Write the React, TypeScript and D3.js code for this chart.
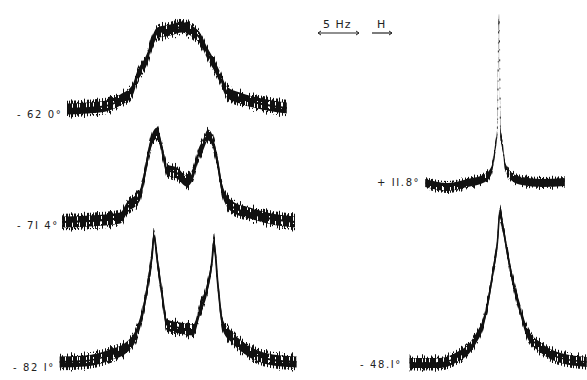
import React from 'react';
import * as d3 from 'd3';

// Frequency offsets (Hz) and relative intensities
const hzA = [-13.9, -9.9, -7.4, -5.9, -5.4, -4.1, -3.5, -2.9, -1.3, 0.1, 1.5, 2.3, 3.2, 3.9, 4.8, 5.6, 7.2, 10.5, 12.9];
const intA = [0.0, 0.02, 0.09, 0.19, 0.31, 0.51, 0.67, 0.76, 0.79, 0.82, 0.77, 0.71, 0.56, 0.46, 0.31, 0.17, 0.11, 0.04, 0.01];

const hzB = [-14.5, -11.1, -7.4, -6.6, -5.0, -4.4, -4.0, -3.4, -2.9, -2.3, -1.7, -0.5, 0.7, 1.5, 2.1, 2.7, 3.3, 3.9, 4.4, 5.1, 6.3, 8.4, 10.5, 13.9];
const intB = [0.0, 0.01, 0.04, 0.14, 0.27, 0.49, 0.67, 0.85, 0.89, 0.72, 0.52, 0.49, 0.41, 0.49, 0.67, 0.77, 0.87, 0.8, 0.62, 0.3, 0.15, 0.09, 0.04, 0.0];

const hzC = [-14.8, -11.7, -8.7, -6.6, -5.4, -4.6, -4.0, -3.5, -3.3, -2.9, -2.3, -1.7, -0.1, 1.5, 2.3, 3.2, 3.8, 4.0, 4.5, 5.1, 6.3, 8.4, 11.2, 14.1];
const intC = [0.0, 0.01, 0.07, 0.15, 0.29, 0.52, 0.8, 1.09, 1.27, 1.02, 0.67, 0.37, 0.34, 0.32, 0.52, 0.74, 1.02, 1.2, 0.77, 0.37, 0.24, 0.1, 0.02, 0.0];

const hzD = [-9.0, -6.2, -3.8, -1.7, -0.9, -0.5, -0.2, 0.0, 0.2, 0.5, 0.7, 1.6, 2.8, 5.2, 8.0];
const intD = [0.01, -0.03, 0.01, 0.06, 0.14, 0.34, 0.55, 1.66, 0.5, 0.35, 0.19, 0.07, 0.03, 0.01, 0.02];

const hzE = [-10.9, -7.2, -5.1, -3.5, -2.7, -2.0, -1.3, -0.7, -0.2, 0.1, 0.5, 1.0, 1.6, 2.6, 3.4, 5.0, 7.1, 10.7];
const intE = [0.0, 0.0, 0.06, 0.16, 0.26, 0.38, 0.63, 0.93, 1.2, 1.5, 1.35, 1.11, 0.85, 0.53, 0.31, 0.16, 0.06, 0.01];

const labels = ['- 62 0°', '- 7I 4°', '- 82 I°', '+ II.8°', '- 48.I°'];
const scaleBarHz = 5;

type Trace = {
  hz: number[]; v: number[]; label: string; col: 0 | 1; base: number; amp: number;
  lx: number; ly: number; lineW: number; dash?: string;
};

const traces: Trace[] = [
  { hz: hzA, v: intA, label: labels[0], col: 0, base: 109, amp: 5.5, lx: 17, ly: 118, lineW: 2 },
  { hz: hzB, v: intB, label: labels[1], col: 0, base: 222, amp: 5.5, lx: 17, ly: 229, lineW: 2 },
  { hz: hzC, v: intC, label: labels[2], col: 0, base: 362, amp: 5.5, lx: 13, ly: 371, lineW: 1.8 },
  { hz: hzD, v: intD, label: labels[3], col: 1, base: 184, amp: 4, lx: 377, ly: 186, lineW: 0.9, dash: '2 7 1 9' },
  { hz: hzE, v: intE, label: labels[4], col: 1, base: 363, amp: 5, lx: 360, ly: 368, lineW: 1.6 },
];

const PX_PER_HZ = 8.2;
const xCols = [
  d3.scaleLinear().domain([-15, 15]).range([181 - 15 * PX_PER_HZ, 181 + 15 * PX_PER_HZ]),
  d3.scaleLinear().domain([-15, 15]).range([499 - 15 * PX_PER_HZ, 499 + 15 * PX_PER_HZ]),
];
const yS = d3.scaleLinear().domain([0, 1]).range([0, -100]);

function pts(t: Trace) {
  return t.hz.map((h, i) => [h, t.v[i]] as [number, number]);
}
function bandPath(t: Trace, k: number) {
  const x = xCols[t.col];
  const a = t.amp * k;
  return d3
    .area<[number, number]>()
    .x((d) => x(d[0]))
    .y0((d) => t.base + yS(d[1]) + a)
    .y1((d) => t.base + yS(d[1]) - a)
    .curve(d3.curveMonotoneX)(pts(t)) as string;
}
function linePath(t: Trace) {
  const x = xCols[t.col];
  return d3
    .line<[number, number]>()
    .x((d) => x(d[0]))
    .y((d) => t.base + yS(d[1]))
    .curve(d3.curveMonotoneX)(pts(t)) as string;
}

const INK = '#111';

export default function App() {
  const font = "'DejaVu Sans', 'Liberation Sans', sans-serif";
  const barX0 = 318;
  const barLen = xCols[1](scaleBarHz) - xCols[1](0);
  return (
    <svg width={587} height={380} style={{ position: 'absolute', left: 0, top: 0, background: '#fff' }}>
      <defs>
        {/* white slivers inside the dense noise band */}
        <pattern id="gapA" width={7} height={17} patternUnits="userSpaceOnUse">
          <rect x={2} y={0} width={1} height={6} fill="#fff" shapeRendering="crispEdges" />
        </pattern>
        <pattern id="gapB" width={12} height={23} patternUnits="userSpaceOnUse">
          <rect x={5} y={9} width={1} height={8} fill="#fff" shapeRendering="crispEdges" />
          <rect x={10} y={2} width={1} height={4} fill="#fff" shapeRendering="crispEdges" />
        </pattern>
        {/* spikes sticking out of the band */}
        <pattern id="whA" width={3} height={19} patternUnits="userSpaceOnUse">
          <rect x={0} y={0} width={1} height={11} fill={INK} shapeRendering="crispEdges" />
        </pattern>
        <pattern id="whB" width={5} height={13} patternUnits="userSpaceOnUse">
          <rect x={2} y={4} width={1} height={8} fill={INK} shapeRendering="crispEdges" />
        </pattern>
        <pattern id="whC" width={7} height={29} patternUnits="userSpaceOnUse">
          <rect x={4} y={5} width={1} height={21} fill={INK} shapeRendering="crispEdges" />
        </pattern>
        <pattern id="whD" width={13} height={37} patternUnits="userSpaceOnUse">
          <rect x={6} y={0} width={1} height={30} fill={INK} shapeRendering="crispEdges" />
        </pattern>
      </defs>

      {traces.map((t, i) => (
        <g key={i}>
          <path d={bandPath(t, 1.75)} fill="url(#whD)" />
          <path d={bandPath(t, 1.5)} fill="url(#whA)" />
          <path d={bandPath(t, 1.5)} fill="url(#whC)" />
          <path d={bandPath(t, 1.25)} fill="url(#whB)" />
          <path d={bandPath(t, 1)} fill={INK} />
          <path d={bandPath(t, 0.9)} fill="url(#gapA)" />
          <path d={bandPath(t, 0.9)} fill="url(#gapB)" />
          <path d={linePath(t)} fill="none" stroke={INK} strokeWidth={t.lineW} strokeDasharray={t.dash} />
          <text x={t.lx} y={t.ly} fontFamily={font} fontSize={10} letterSpacing={1.6} fill="#222">
            {t.label}
          </text>
        </g>
      ))}

      {/* scale bar */}
      <text x={323} y={28} fontFamily={font} fontSize={11} fill="#222" letterSpacing={1}>
        5 Hz
      </text>
      <line x1={barX0} x2={barX0 + barLen} y1={33} y2={33} stroke="#222" strokeWidth={1.2} />
      <path d={`M${barX0 + 3},31 L${barX0},33 L${barX0 + 3},35`} fill="none" stroke="#222" strokeWidth={1} />
      <path d={`M${barX0 + barLen - 3},31 L${barX0 + barLen},33 L${barX0 + barLen - 3},35`} fill="none" stroke="#222" strokeWidth={1} />

      <text x={377} y={28} fontFamily={font} fontSize={11} fill="#222">
        H
      </text>
      <line x1={372} x2={392} y1={33} y2={33} stroke="#222" strokeWidth={1.2} />
      <path d="M389,31 L392,33 L389,35" fill="none" stroke="#222" strokeWidth={1} />
    </svg>
  );
}
